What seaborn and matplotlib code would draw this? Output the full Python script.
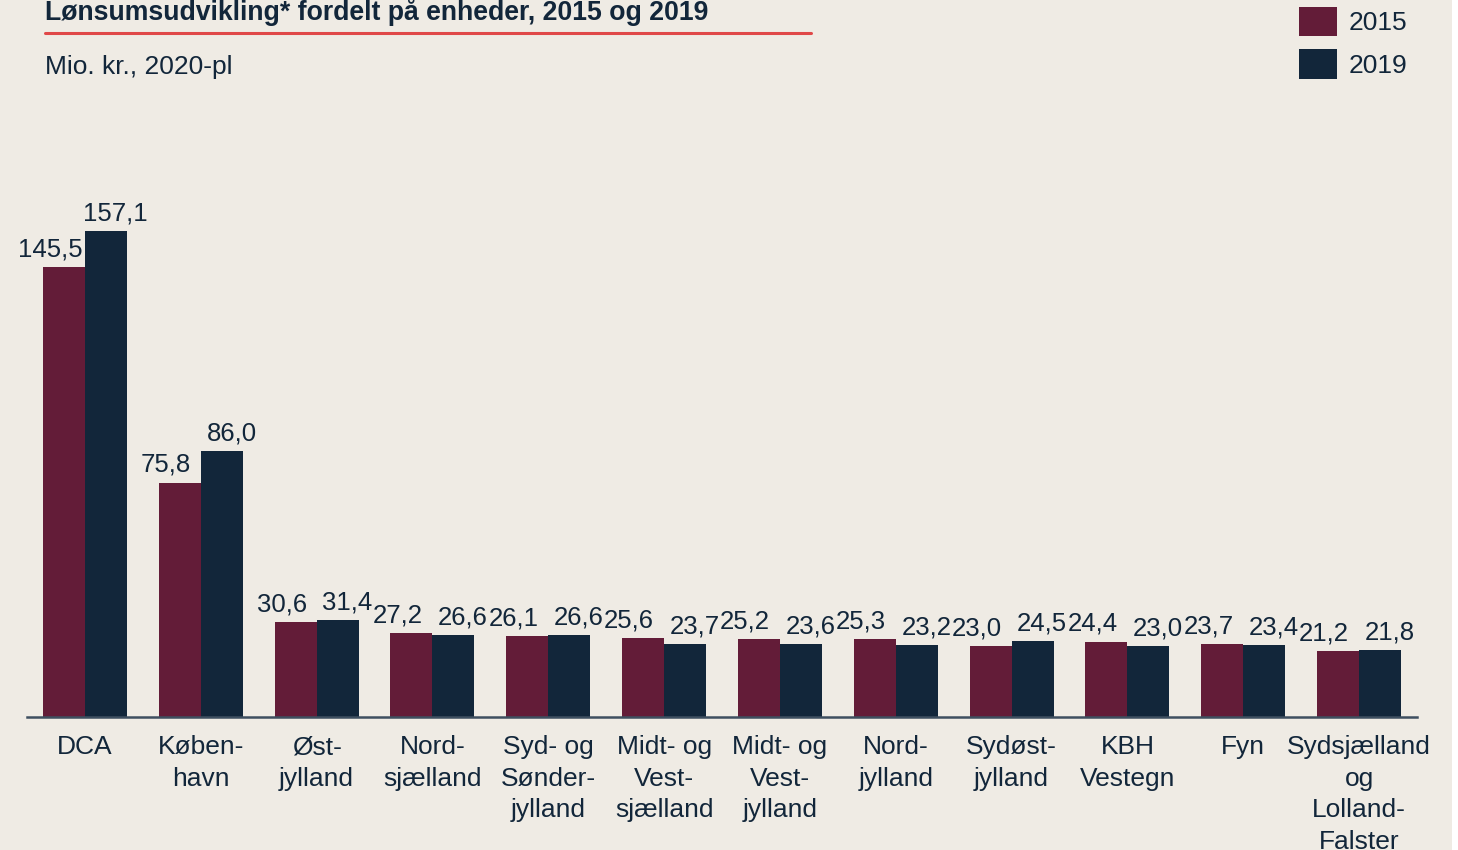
import matplotlib
matplotlib.use("Agg")
import matplotlib.pyplot as plt
import matplotlib.patches as mpatches
import pandas as pd
import seaborn as sns

# Data
enheder = ["DCA", "Køben-\nhavn", "Øst-\njylland", "Nord-\nsjælland",
           "Syd- og\nSønder-\njylland", "Midt- og\nVest-\nsjælland",
           "Midt- og\nVest-\njylland", "Nord-\njylland", "Sydøst-\njylland",
           "KBH\nVestegn", "Fyn", "Sydsjælland\nog\nLolland-\nFalster"]
aar = ["2015", "2019"]
v2015 = [145.5, 75.8, 30.6, 27.2, 26.1, 25.6, 25.2, 25.3, 23.0, 24.4, 23.7, 21.2]
v2019 = [157.1, 86.0, 31.4, 26.6, 26.6, 23.7, 23.6, 23.2, 24.5, 23.0, 23.4, 21.8]

df = pd.DataFrame({
    "enhed": enheder * 2,
    "aar": [aar[0]] * len(enheder) + [aar[1]] * len(enheder),
    "mio": v2015 + v2019,
})

bg = "#EFEBE4"
navy = "#12263A"
farver = {"2015": "#631C38", "2019": "#12263A"}

sns.set_theme(style="white")
plt.rcParams["font.family"] = ["Liberation Sans", "DejaVu Sans"]

fig = plt.figure(figsize=(14.58, 8.5), dpi=100, facecolor="white")
# beige panel, white strip at the right edge like the reference
fig.patches.append(mpatches.Rectangle((0, 0), 1452 / 1458, 1, transform=fig.transFigure,
                                      facecolor=bg, edgecolor="none", zorder=-10))

ax = fig.add_axes([27 / 1458, 133 / 850, 1390 / 1458, 537 / 850])
ax.set_facecolor(bg)

sns.barplot(data=df, x="enhed", y="mio", hue="aar", palette=farver,
            width=0.724, gap=0, saturation=1, linewidth=0, ax=ax, legend=True)

# labels nudged apart sideways so neighbours don't collide
for cont, dx in zip(ax.containers, [-10, 7]):
    lbls = ax.bar_label(cont, labels=[f"{v:.1f}".replace(".", ",") for v in cont.datavalues],
                        padding=4, fontsize=18.5, color=navy)
    for t in lbls:
        t.xyann = (dx, t.xyann[1])

ax.set_xlim(-0.5, 11.5)
ax.set_ylim(0, 173.6)
ax.set_xlabel("")
ax.set_ylabel("")
ax.set_yticks([])
ax.tick_params(axis="x", length=0, pad=13, labelsize=19, labelcolor=navy)
for lbl in ax.get_xticklabels():
    lbl.set_linespacing(1.4)
for s in ["top", "right", "left"]:
    ax.spines[s].set_visible(False)
ax.spines["bottom"].set_color("#3E4F60")
ax.spines["bottom"].set_linewidth(1.8)

handles, labels = ax.get_legend_handles_labels()
ax.legend(handles, labels, loc="upper left", bbox_to_anchor=(1283 / 1458, 1 + 9 / 850),
          bbox_transform=fig.transFigure, frameon=False, fontsize=19,
          handlelength=1.45, handleheight=1.35, handletextpad=0.42,
          labelspacing=0.48, labelcolor=navy, borderaxespad=0.2)

# title, red rule, subtitle
fig.text(45 / 1458, 1 - 20 / 850, "Lønsumsudvikling* fordelt på enheder, 2015 og 2019",
         fontsize=19.2, fontweight="bold", color=navy, va="baseline", ha="left")
fig.add_artist(plt.Line2D([45 / 1458, 811 / 1458], [1 - 33 / 850, 1 - 33 / 850],
                          transform=fig.transFigure, color="#E04848", linewidth=2.2))
fig.text(45 / 1458, 1 - 67 / 850, "Mio. kr., 2020-pl",
         fontsize=19, color=navy, va="center", ha="left")

fig.savefig("out.png", dpi=100, facecolor=fig.get_facecolor())
